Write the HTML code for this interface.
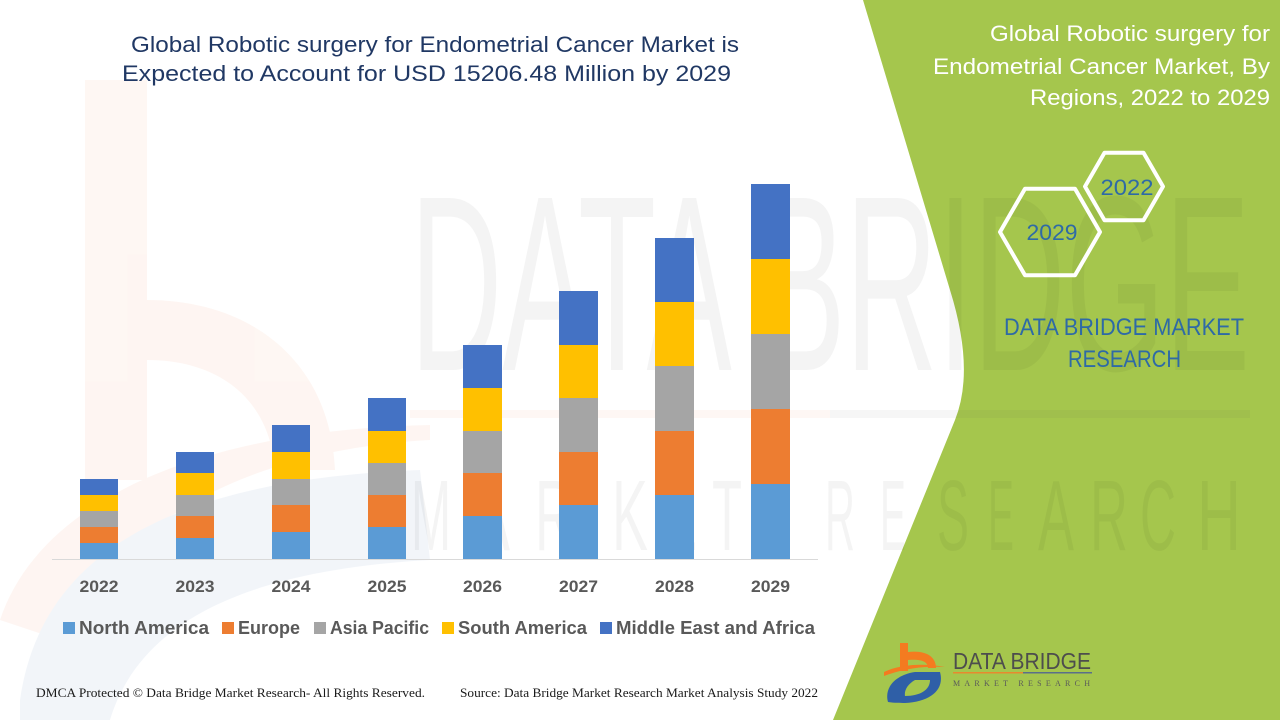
<!DOCTYPE html>
<html><head><meta charset="utf-8"><style>
html,body{margin:0;padding:0;background:#fff;}
svg{display:block;}
</style></head><body>
<svg width="1280" height="720" viewBox="0 0 1280 720" xmlns="http://www.w3.org/2000/svg">
<rect width="1280" height="720" fill="#ffffff"/>
<!-- green panel -->
<path d="M863,0 L950,290 Q975,370 955,420 L833,720 L1280,720 L1280,0 Z" fill="#a5c64d"/>

<!-- faint watermark logo left -->
<g opacity="0.055">
<rect x="85" y="80" width="62" height="400" fill="#f26522"/>
<path d="M147,300 C250,300 330,360 335,470 L275,470 C270,400 220,360 147,360 Z" fill="#f26522"/>
<path d="M0,620 C40,500 200,430 430,425 L430,440 C250,450 120,520 60,640 Z" fill="#f26522"/>
<path d="M20,700 C40,560 160,480 420,470 L430,560 C250,570 140,620 110,720 L20,720 Z" fill="#2e5ea8"/>
</g>
<!-- watermark text -->
<g font-family="Liberation Sans, sans-serif" fill="#000" opacity="0.04">
<text x="410" y="370" font-size="250" textLength="840" lengthAdjust="spacingAndGlyphs">DATA BRIDGE</text>
</g>
<g font-family="Liberation Sans, sans-serif" font-size="100" fill="#000" opacity="0.04">
<text x="411" y="550" textLength="40" lengthAdjust="spacingAndGlyphs">M</text>
<text x="470" y="550" textLength="40" lengthAdjust="spacingAndGlyphs">A</text>
<text x="535" y="550" textLength="38" lengthAdjust="spacingAndGlyphs">R</text>
<text x="612" y="550" textLength="36" lengthAdjust="spacingAndGlyphs">K</text>
<text x="665" y="550" textLength="32" lengthAdjust="spacingAndGlyphs">E</text>
<text x="712" y="550" textLength="30" lengthAdjust="spacingAndGlyphs">T</text>
<text x="825" y="550" textLength="30" lengthAdjust="spacingAndGlyphs">R</text>
<text x="880" y="550" textLength="26" lengthAdjust="spacingAndGlyphs">E</text>
<text x="937" y="550" textLength="32" lengthAdjust="spacingAndGlyphs">S</text>
<text x="988" y="550" textLength="26" lengthAdjust="spacingAndGlyphs">E</text>
<text x="1038" y="550" textLength="36" lengthAdjust="spacingAndGlyphs">A</text>
<text x="1090" y="550" textLength="38" lengthAdjust="spacingAndGlyphs">R</text>
<text x="1140" y="550" textLength="36" lengthAdjust="spacingAndGlyphs">C</text>
<text x="1197" y="550" textLength="44" lengthAdjust="spacingAndGlyphs">H</text>
</g>
<rect x="410" y="410" width="420" height="8" fill="#f26522" opacity="0.05"/>
<rect x="830" y="410" width="420" height="8" fill="#555" opacity="0.05"/>

<!-- title -->
<g font-family="Liberation Sans, sans-serif" font-size="22" fill="#203864">
<text x="131" y="52" textLength="608" lengthAdjust="spacingAndGlyphs">Global Robotic surgery for Endometrial Cancer Market is</text>
<text x="122" y="81" textLength="609" lengthAdjust="spacingAndGlyphs">Expected to Account for USD 15206.48 Million by 2029</text>
</g>

<!-- axis -->
<line x1="52" y1="559.5" x2="818" y2="559.5" stroke="#d9d9d9" stroke-width="1"/>

<!-- bars -->
<g>
<rect x="80" y="543" width="38" height="16" fill="#5b9bd5"/>
<rect x="80" y="527" width="38" height="16" fill="#ed7d31"/>
<rect x="80" y="511" width="38" height="16" fill="#a5a5a5"/>
<rect x="80" y="495" width="38" height="16" fill="#ffc000"/>
<rect x="80" y="479" width="38" height="16" fill="#4472c4"/>

<rect x="176" y="538" width="38" height="21" fill="#5b9bd5"/>
<rect x="176" y="516" width="38" height="22" fill="#ed7d31"/>
<rect x="176" y="495" width="38" height="21" fill="#a5a5a5"/>
<rect x="176" y="473" width="38" height="22" fill="#ffc000"/>
<rect x="176" y="452" width="38" height="21" fill="#4472c4"/>

<rect x="272" y="532" width="38" height="27" fill="#5b9bd5"/>
<rect x="272" y="505" width="38" height="27" fill="#ed7d31"/>
<rect x="272" y="479" width="38" height="26" fill="#a5a5a5"/>
<rect x="272" y="452" width="38" height="27" fill="#ffc000"/>
<rect x="272" y="425" width="38" height="27" fill="#4472c4"/>

<rect x="368" y="527" width="38" height="32" fill="#5b9bd5"/>
<rect x="368" y="495" width="38" height="32" fill="#ed7d31"/>
<rect x="368" y="463" width="38" height="32" fill="#a5a5a5"/>
<rect x="368" y="431" width="38" height="32" fill="#ffc000"/>
<rect x="368" y="398" width="38" height="33" fill="#4472c4"/>

<rect x="463" y="516" width="39" height="43" fill="#5b9bd5"/>
<rect x="463" y="473" width="39" height="43" fill="#ed7d31"/>
<rect x="463" y="431" width="39" height="42" fill="#a5a5a5"/>
<rect x="463" y="388" width="39" height="43" fill="#ffc000"/>
<rect x="463" y="345" width="39" height="43" fill="#4472c4"/>

<rect x="559" y="505" width="39" height="54" fill="#5b9bd5"/>
<rect x="559" y="452" width="39" height="53" fill="#ed7d31"/>
<rect x="559" y="398" width="39" height="54" fill="#a5a5a5"/>
<rect x="559" y="345" width="39" height="53" fill="#ffc000"/>
<rect x="559" y="291" width="39" height="54" fill="#4472c4"/>

<rect x="655" y="495" width="39" height="64" fill="#5b9bd5"/>
<rect x="655" y="431" width="39" height="64" fill="#ed7d31"/>
<rect x="655" y="366" width="39" height="65" fill="#a5a5a5"/>
<rect x="655" y="302" width="39" height="64" fill="#ffc000"/>
<rect x="655" y="238" width="39" height="64" fill="#4472c4"/>

<rect x="751" y="484" width="39" height="75" fill="#5b9bd5"/>
<rect x="751" y="409" width="39" height="75" fill="#ed7d31"/>
<rect x="751" y="334" width="39" height="75" fill="#a5a5a5"/>
<rect x="751" y="259" width="39" height="75" fill="#ffc000"/>
<rect x="751" y="184" width="39" height="75" fill="#4472c4"/>
</g>

<!-- year labels -->
<g font-family="Liberation Sans, sans-serif" font-size="17" font-weight="bold" fill="#595959" text-anchor="middle">
<text x="99" y="592" textLength="39" lengthAdjust="spacingAndGlyphs">2022</text>
<text x="195" y="592" textLength="39" lengthAdjust="spacingAndGlyphs">2023</text>
<text x="291" y="592" textLength="39" lengthAdjust="spacingAndGlyphs">2024</text>
<text x="387" y="592" textLength="39" lengthAdjust="spacingAndGlyphs">2025</text>
<text x="482.5" y="592" textLength="39" lengthAdjust="spacingAndGlyphs">2026</text>
<text x="578.5" y="592" textLength="39" lengthAdjust="spacingAndGlyphs">2027</text>
<text x="674.5" y="592" textLength="39" lengthAdjust="spacingAndGlyphs">2028</text>
<text x="770.5" y="592" textLength="39" lengthAdjust="spacingAndGlyphs">2029</text>
</g>

<!-- legend -->
<g>
<rect x="63" y="622" width="12" height="12" fill="#5b9bd5"/>
<rect x="222" y="622" width="12" height="12" fill="#ed7d31"/>
<rect x="314" y="622" width="12" height="12" fill="#a5a5a5"/>
<rect x="442" y="622" width="12" height="12" fill="#ffc000"/>
<rect x="600" y="622" width="12" height="12" fill="#4472c4"/>
</g>
<g font-family="Liberation Sans, sans-serif" font-size="18" font-weight="bold" fill="#595959">
<text x="79" y="634" textLength="130" lengthAdjust="spacingAndGlyphs">North America</text>
<text x="238" y="634" textLength="62" lengthAdjust="spacingAndGlyphs">Europe</text>
<text x="330" y="634" textLength="99" lengthAdjust="spacingAndGlyphs">Asia Pacific</text>
<text x="458" y="634" textLength="129" lengthAdjust="spacingAndGlyphs">South America</text>
<text x="616" y="634" textLength="199" lengthAdjust="spacingAndGlyphs">Middle East and Africa</text>
</g>

<!-- footer -->
<g font-family="Liberation Serif, serif" font-size="12.5" fill="#1a1a1a">
<text x="36" y="697" textLength="389" lengthAdjust="spacingAndGlyphs">DMCA Protected © Data Bridge Market Research- All Rights Reserved.</text>
<text x="460" y="697" textLength="358" lengthAdjust="spacingAndGlyphs">Source: Data Bridge Market Research Market Analysis Study 2022</text>
</g>

<!-- right title -->
<g font-family="Liberation Sans, sans-serif" font-size="22" fill="#ffffff">
<text x="990" y="41" textLength="280" lengthAdjust="spacingAndGlyphs">Global Robotic surgery for</text>
<text x="933" y="74" textLength="337" lengthAdjust="spacingAndGlyphs">Endometrial Cancer Market, By</text>
<text x="1030" y="105" textLength="240" lengthAdjust="spacingAndGlyphs">Regions, 2022 to 2029</text>
</g>

<!-- hexagons -->
<g fill="none" stroke="#ffffff" stroke-width="4" stroke-linejoin="round">
<polygon points="1163,186.5 1143.5,220.3 1104.5,220.3 1085,186.5 1104.5,152.7 1143.5,152.7"/>
<polygon points="1100,232 1075,275.3 1025,275.3 1000,232 1025,188.7 1075,188.7"/>
</g>
<g font-family="Liberation Sans, sans-serif" font-size="22" fill="#2e6aa6" text-anchor="middle">
<text x="1127" y="195" textLength="53" lengthAdjust="spacingAndGlyphs">2022</text>
<text x="1052" y="240" textLength="51" lengthAdjust="spacingAndGlyphs">2029</text>
</g>
<g font-family="Liberation Sans, sans-serif" font-size="24" fill="#2e6aa6">
<text x="1004" y="335" textLength="240" lengthAdjust="spacingAndGlyphs">DATA BRIDGE MARKET</text>
<text x="1068" y="367" textLength="113" lengthAdjust="spacingAndGlyphs">RESEARCH</text>
</g>

<!-- bottom logo -->
<g>
<rect x="900" y="643" width="8" height="28" fill="#f47b20"/>
<path d="M908,652 C925,650 936,656 936,668 L928,668 C928,661 920,659 908,660 Z" fill="#f47b20"/>
<path d="M884,672 C900,664 925,663 945,667 C925,666 905,668 884,676 Z" fill="#f47b20"/>
<path d="M888,702 C884,688 895,675 915,672 L940,672 C945,690 930,702 905,703 C900,703 893,703 888,702 Z M905,696 C920,696 930,690 930,680 L915,680 C908,684 904,690 905,696 Z" fill="#2f5fa7" fill-rule="evenodd"/>
<text x="953" y="669" font-family="Liberation Sans, sans-serif" font-size="23" fill="#4d4d4d" textLength="138" lengthAdjust="spacingAndGlyphs">DATA BRIDGE</text>
<rect x="953" y="672" width="70" height="1.5" fill="#e8892e"/>
<rect x="1023" y="672" width="69" height="1.5" fill="#5a6f8a"/>
<text x="953" y="686" font-family="Liberation Serif, serif" font-size="8" fill="#5a5a5a" textLength="137" lengthAdjust="spacing">MARKET  RESEARCH</text>
</g>
</svg>
</body></html>
